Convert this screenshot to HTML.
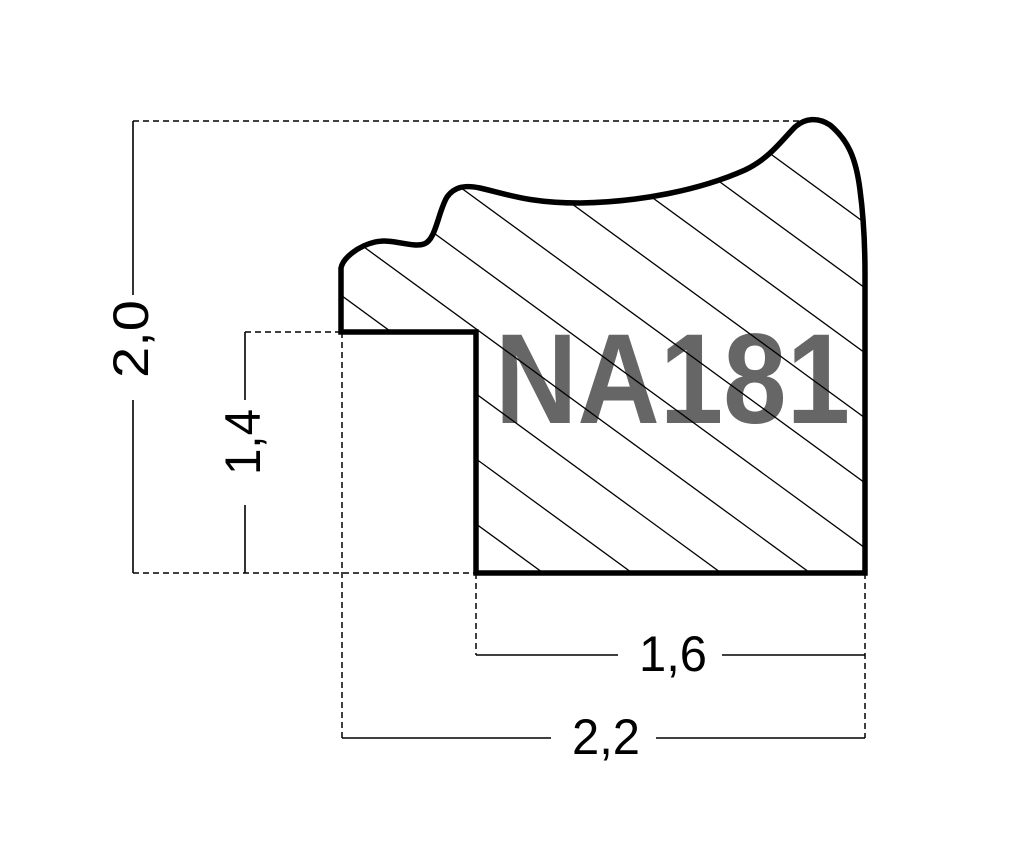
<!DOCTYPE html>
<html><head><meta charset="utf-8"><style>html,body{margin:0;padding:0;background:#fff;}svg{display:block}</style></head>
<body>
<svg width="1024" height="857" viewBox="0 0 1024 857" xmlns="http://www.w3.org/2000/svg">
<defs>
<clipPath id="c">
<path d="M341,332 L341,268 C343,258 358,246 375,242 C392,238 412,248 424,244 C436,240 438,212 447,197 C455,186 466,185 480,188 C510,195 530,203 580,203 C640,202 700,190 745,170 C770,158 782,140 795,127 C805,118 818,117 830,125 C848,140 856,158 860,190 C864,220 865,250 865,275 L865,573 L476,573 L476,332 Z"/>
</clipPath>
</defs>
<text x="495" y="423" font-family="Liberation Sans, sans-serif" font-weight="bold" font-size="128" fill="#666" textLength="355" lengthAdjust="spacingAndGlyphs">NA181</text>
<g clip-path="url(#c)" stroke="#000" stroke-width="1.3">
<g id="h">
</g>
<line x1="-200" y1="-230" x2="980" y2="632"/>
<line x1="-289" y1="-230" x2="891" y2="632"/>
<line x1="-378" y1="-230" x2="802" y2="632"/>
<line x1="-467" y1="-230" x2="713" y2="632"/>
<line x1="-556" y1="-230" x2="624" y2="632"/>
<line x1="-645" y1="-230" x2="535" y2="632"/>
<line x1="-734" y1="-230" x2="446" y2="632"/>
<line x1="-823" y1="-230" x2="357" y2="632"/>
<line x1="-111" y1="-230" x2="1069" y2="632"/>
<line x1="-22" y1="-230" x2="1158" y2="632"/>
<line x1="67" y1="-230" x2="1247" y2="632"/>
<line x1="156" y1="-230" x2="1336" y2="632"/>
<line x1="245" y1="-230" x2="1425" y2="632"/>
</g>
<g fill="none" stroke="#000" stroke-width="1.5" stroke-dasharray="6,4">
<line x1="133" y1="121" x2="808" y2="121"/>
<line x1="133" y1="573" x2="476" y2="573"/>
<line x1="245" y1="332" x2="342" y2="332"/>
<line x1="342" y1="332" x2="342" y2="738"/>
<line x1="476" y1="573" x2="476" y2="655"/>
<line x1="865" y1="573" x2="865" y2="738"/>
</g>
<g stroke="#000" stroke-width="1.6">
<line x1="133" y1="121" x2="133" y2="295"/>
<line x1="133" y1="400" x2="133" y2="573"/>
<line x1="245" y1="332" x2="245" y2="400"/>
<line x1="245" y1="505" x2="245" y2="573"/>
<line x1="476" y1="655" x2="618" y2="655"/>
<line x1="722" y1="655" x2="865" y2="655"/>
<line x1="342" y1="738" x2="551" y2="738"/>
<line x1="656" y1="738" x2="865" y2="738"/>
</g>
<path d="M341,332 L341,268 C343,258 358,246 375,242 C392,238 412,248 424,244 C436,240 438,212 447,197 C455,186 466,185 480,188 C510,195 530,203 580,203 C640,202 700,190 745,170 C770,158 782,140 795,127 C805,118 818,117 830,125 C848,140 856,158 860,190 C864,220 865,250 865,275 L865,573 L476,573 L476,332 Z" fill="none" stroke="#000" stroke-width="5.5" stroke-linejoin="miter"/>
<g font-family="Liberation Sans, sans-serif" font-size="50" fill="#000" text-anchor="middle">
<text x="673" y="671" textLength="68" lengthAdjust="spacingAndGlyphs">1,6</text>
<text x="606" y="754" textLength="68" lengthAdjust="spacingAndGlyphs">2,2</text>
<text transform="translate(148,339) rotate(-90)" textLength="78" lengthAdjust="spacingAndGlyphs">2,0</text>
<text transform="translate(260,442) rotate(-90)" textLength="66" lengthAdjust="spacingAndGlyphs">1,4</text>
</g>
</svg>
</body></html>
